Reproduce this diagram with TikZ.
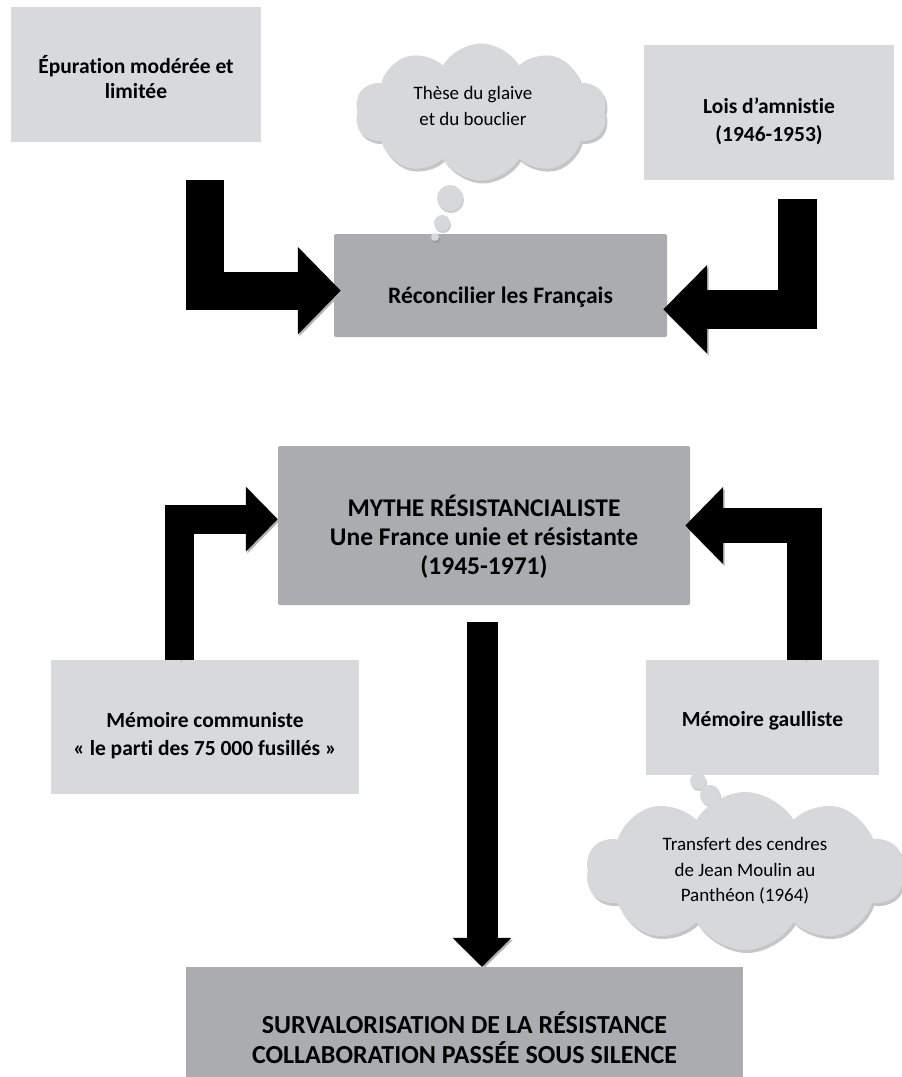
\documentclass[tikz,border=0pt]{standalone}
\usepackage{fontspec}
\setmainfont{Carlito}[Ligatures=NoCommon]
\usetikzlibrary{arrows.meta,positioning,calc,shapes.symbols,shadows}
\definecolor{lightbox}{HTML}{D8D9DB}
\definecolor{darkbox}{HTML}{AAACAF}
\definecolor{cloudgray}{HTML}{D7D8DA}
\newcommand{\pushdown}[1]{\rule{0pt}{#1}}

\begin{document}
\begin{tikzpicture}[x=1pt,y=-1pt,
    light/.style={fill=lightbox,inner sep=0pt,align=center,font=\fontsize{21.5}{25}\selectfont\bfseries},
    dark/.style={fill=darkbox,rounded corners=2pt,inner sep=0pt,align=center},
    thought/.style={cloud,cloud puffs=10,cloud puff arc=120,fill=cloudgray,inner sep=0pt,align=center,
      font=\fontsize{19}{25.5}\selectfont,drop shadow={shadow xshift=2pt,shadow yshift=-3pt,opacity=.45}},
    bubble/.style={circle,fill=cloudgray,inner sep=0pt,drop shadow={shadow xshift=1pt,shadow yshift=-2pt,opacity=.4}},
    fat/.style n args={3}{line width=#1,line join=miter,-{Triangle[length=#2,width=#3]},
      preaction={draw=black!30,transform canvas={shift={(1.5pt,-2pt)}}}}]
    \fill[white] (0,0) rectangle (902,1077);
    \useasboundingbox (0,0) rectangle (902,1077);

    % boxes
    \node[light,minimum width=250,minimum height=135] (epur) at (136,74.5) {\pushdown{24pt}Épuration modérée et\\limitée};
    \node[light,minimum width=250,minimum height=135,font=\fontsize{21.5}{28}\selectfont\bfseries] (lois) at (769,112.5) {\pushdown{32.5pt}Lois d’amnistie\\(1946-1953)};
    \node[dark,minimum width=333,minimum height=103,font=\fontsize{23.6}{28}\selectfont\bfseries] (reconc) at (500.5,285.5) {\pushdown{40pt}Réconcilier les Français};
    \node[dark,minimum width=412,minimum height=159,font=\fontsize{25.5}{29}\selectfont\bfseries] (mythe) at (484,525.5) {\pushdown{43pt}MYTHE RÉSISTANCIALISTE\\Une France unie et résistante\\(1945-1971)};
    \node[light,minimum width=308,minimum height=134,font=\fontsize{21.5}{28}\selectfont\bfseries] (comm) at (205,727) {\pushdown{32pt}Mémoire communiste\\«~le parti des 75 000 fusillés~»};
    \node[light,minimum width=233,minimum height=115] (gaul) at (762.5,717.5) {\pushdown{22pt}Mémoire gaulliste};
    \node[dark,rounded corners=0pt,minimum width=557,minimum height=142,font=\fontsize{26}{30}\selectfont\bfseries] (surv) at (464.5,1038) {SURVALORISATION DE LA RÉSISTANCE\\COLLABORATION PASSÉE SOUS SILENCE};

    % thought clouds
    \node[thought,aspect=1.85,minimum width=252,minimum height=137] (think1) at (481,112) {};
    \node[font=\fontsize{19}{25.5}\selectfont,align=center] (think1txt) at ($(think1)+(-8,-6)$) {Thèse du glaive\\et du bouclier};
    \node[bubble,minimum size=26] (b1) at (450,198) {};
    \node[bubble,minimum size=16] (b2) at (442,223) {};
    \node[bubble,minimum size=8] (b3) at (435,237) {};
    \node[bubble,minimum size=16] (b4) at (698,781) {};
    \node[bubble,minimum size=20] (b5) at (710,795) {};
    \node[thought,aspect=2,minimum width=318,minimum height=158] (think2) at (745,871) {Transfert des cendres\\de Jean Moulin au\\Panthéon (1964)};

    % arrows
    \coordinate (a1) at (205,180);
    \coordinate (a2) at (797,199);
    \coordinate (a3) at ($(comm.north west)+(129,0)$);
    \coordinate (a4) at ($(gaul.north west)+(159,0)$);
    \coordinate (a5) at ($(mythe.south)+(-2,17)$);
    \draw[fat={38pt}{43pt}{85pt}] (a1) |- ($(reconc.north west)!0.55!(reconc.south west)+(7,0)$);
    \draw[fat={39pt}{44pt}{86pt}] (a2) |- ($(reconc.north east)!0.73!(reconc.south east)+(-4,0)$);
    \draw[fat={29pt}{32pt}{63pt}] (a3) |- ($(mythe.north west)!0.46!(mythe.south west)$);
    \draw[fat={35pt}{38pt}{75pt}] (a4) |- ($(mythe.north east)!0.5!(mythe.south east)+(-5,0)$);
    \draw[fat={31pt}{29pt}{57pt}] (a5) -- (a5 |- surv.north);
\end{tikzpicture}
\end{document}
